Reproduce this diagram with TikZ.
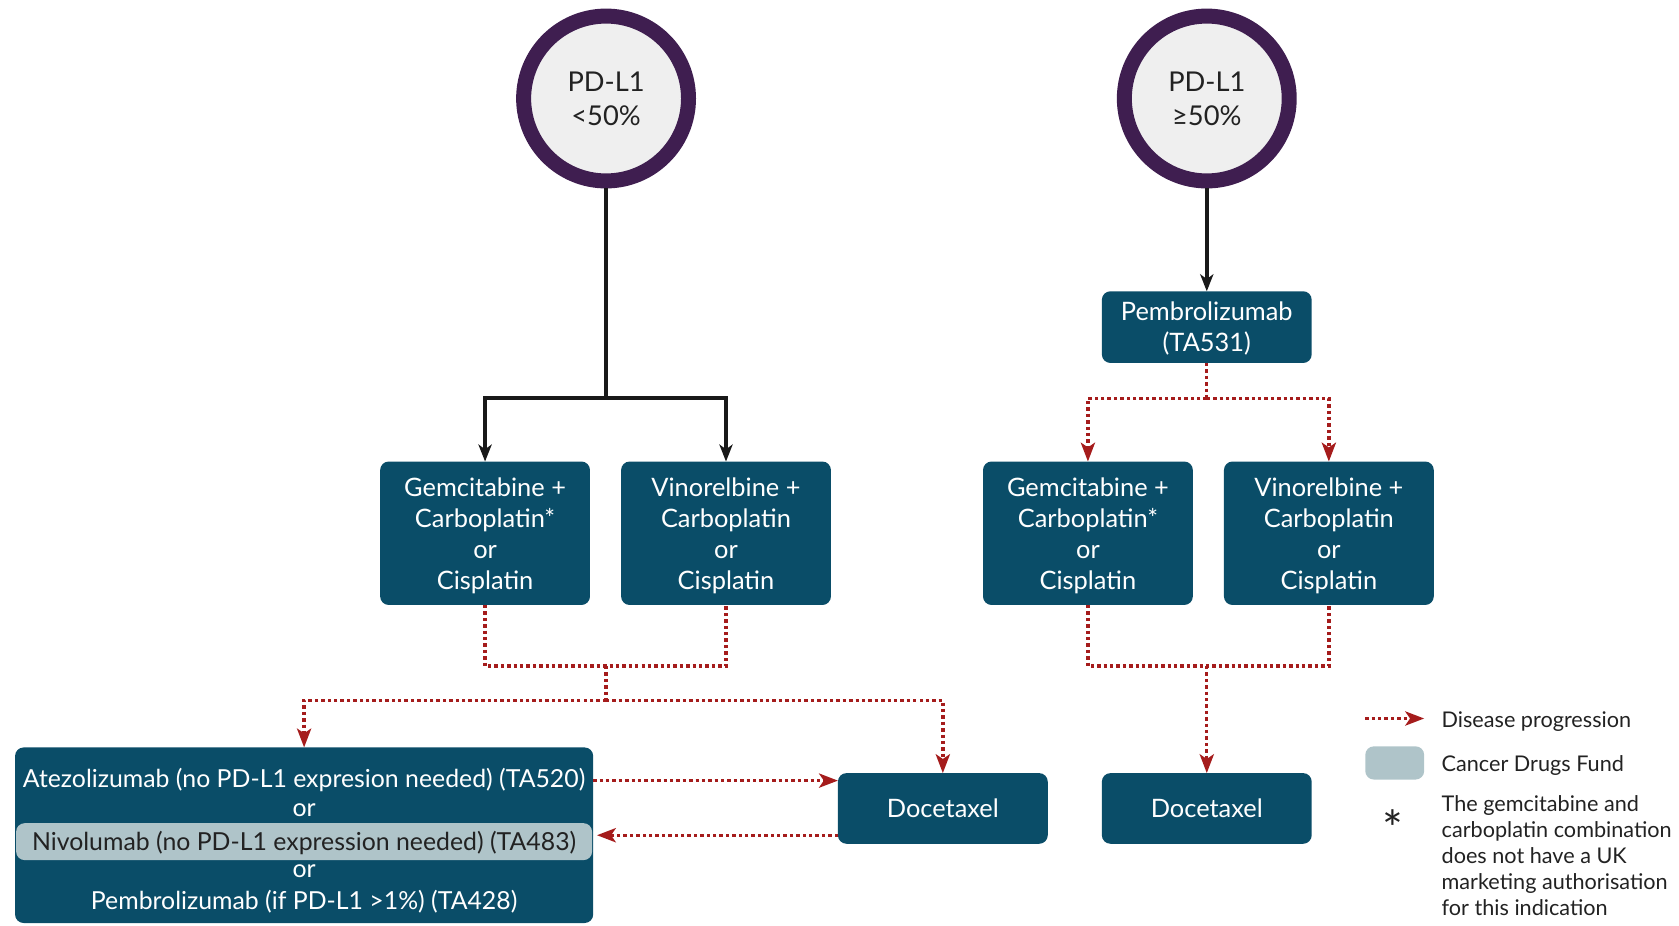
\documentclass[tikz,border=0pt]{standalone}
\usepackage{fontspec}
\setmainfont{Lato}
\usepackage{tikz}
\usepackage{xcolor}
\usetikzlibrary{arrows.meta, positioning}
\definecolor{boxteal}{HTML}{0A4D68}
\definecolor{progred}{HTML}{A51C1C}
\definecolor{ringpurple}{HTML}{3F1E50}
\definecolor{ringfill}{HTML}{EFEFEF}
\definecolor{cdfgrey}{HTML}{AFC4C9}
\definecolor{inktext}{HTML}{222222}

\begin{document}
\begin{tikzpicture}[x=0.02cm, y=-0.02cm,
    ring/.style={circle, draw=ringpurple, line width=0.28cm, fill=ringfill, minimum size=3.08cm, inner sep=0pt, align=center, text=inktext, text depth=-2pt, font=\fontsize{14.5}{18.2}\selectfont},
    treat/.style={rectangle, rounded corners=0.16cm, fill=boxteal, text=white, align=center, minimum width=3.92cm, inner sep=0pt, outer sep=0pt, text depth=0pt, font=\fontsize{13.5}{16.5}\selectfont},
    iotext/.style={text=white, inner sep=0pt, text height=9.5pt, text depth=0pt, font=\fontsize{13.2}{16.2}\selectfont},
    cdf/.style={rectangle, rounded corners=0.16cm, fill=cdfgrey, inner sep=0pt, outer sep=0pt},
    flow/.style={draw=black!90, line width=2pt, -{Stealth[length=9pt, width=7pt, inset=2.5pt]}},
    link/.style={draw=progred, line width=1.8pt, dash pattern=on 1.8pt off 1.6pt},
    prog/.style={link, -{Stealth[length=10pt, width=7.5pt, inset=2.5pt]}},
    keytext/.style={anchor=west, text=inktext, inner sep=0pt, text depth=0pt, font=\fontsize{11.5}{13.7}\selectfont}]
                        \useasboundingbox (0,0) rectangle (1568,864);
                        \node[ring] (lowC) at (566,92) {PD-L1\\<50\%};
                        \node[ring] (highC) at (1127,92) {PD-L1\\≥50\%};
                        \node[treat, minimum height=1.34cm] (pembro) at (1127,305.5) {Pembrolizumab\\(TA531)};
                        \node[treat, minimum height=2.68cm] (gemL) at (453,498) {Gemcitabine +\\Carboplatin*\\or\\Cisplatin};
                        \node[treat, minimum height=2.68cm] (vinL) at (678,498) {Vinorelbine +\\Carboplatin\\or\\Cisplatin};
                        \node[treat, minimum height=2.68cm] (gemR) at (1016,498) {Gemcitabine +\\Carboplatin*\\or\\Cisplatin};
                        \node[treat, minimum height=2.68cm] (vinR) at (1241,498) {Vinorelbine +\\Carboplatin\\or\\Cisplatin};
                        \node[treat, minimum height=1.32cm] (docL) at (880.5,755) {Docetaxel};
                        \node[treat, minimum height=1.32cm] (docR) at (1127,755) {Docetaxel};
                        \node[treat, minimum width=10.8cm, minimum height=3.28cm] (ioBox) at (284,780) {};
                        \node[iotext] (atezo) at (284,727) {Atezolizumab (no PD-L1 expresion needed) (TA520)};
                        \node[iotext] (orA) at (284,754) {or};
                        \node[cdf, minimum width=10.76cm, minimum height=0.69cm, text=inktext, text height=9.5pt, text depth=0pt, font=\fontsize{13.2}{16.2}\selectfont] (nivo) at (284,786) {Nivolumab (no PD-L1 expression needed) (TA483)};
                        \node[iotext] (orB) at (284,811) {or};
                        \node[iotext] (pemL) at (284,841) {Pembrolizumab (if PD-L1 >1\%) (TA428)};
                        \coordinate (lowSplit) at (566,372);
                        \coordinate (lowJoin) at (566,622);
                        \coordinate (lowFork) at (566,654);
                        \coordinate (highSplit) at (1127,372);
                        \coordinate (highJoin) at (1127,622);
                        \draw[flow] (lowC.south) -- (lowSplit) -| (gemL.north);
                        \draw[flow] (lowSplit) -| (vinL.north);
                        \draw[flow] (highC.south) -- (pembro.north);
                        \draw[link] (pembro.south) -- (highSplit);
                        \draw[prog] (highSplit) -| (gemR.north);
                        \draw[prog] (highSplit) -| (vinR.north);
                        \draw[link] (gemL.south) |- (lowJoin) -| (vinL.south)
                        (lowJoin) -- (lowFork);
                        \draw[prog] (lowFork) -| (ioBox.north);
                        \draw[prog] (lowFork) -| (docL.north);
                        \draw[prog] (ioBox.east |- 0,729) -- (docL.west |- 0,729);
                        \draw[prog, shorten >=2pt] (docL.west |- 0,780) -- (ioBox.east |- 0,780);
                        \draw[link] (gemR.south) |- (highJoin) -| (vinR.south);
                        \draw[prog] (highJoin) -- (docR.north);
                        \coordinate (keyStart) at (1275,671);
                        \coordinate (keyEnd) at (1330,671);
                        \draw[prog] (keyStart) -- (keyEnd);
                        \node[keytext] (keyProg) at (1346,672) {Disease progression};
                        \node[cdf, minimum width=1.1cm, minimum height=0.62cm] (keySwatch) at (1302.5,712.5) {};
                        \node[keytext] (keyCdf) at (1346,713) {Cancer Drugs Fund};
                        \node[text=inktext, inner sep=0pt, font=\fontsize{26}{26}\selectfont] (keyStar) at (1301,773) {*};
                        \node[keytext, anchor=north west, align=left] (keyNote) at (1346,743) {The gemcitabine and\\carboplatin combination\\does not have a UK\\marketing authorisation\\for this indication};
                    \end{tikzpicture}
\end{document}
